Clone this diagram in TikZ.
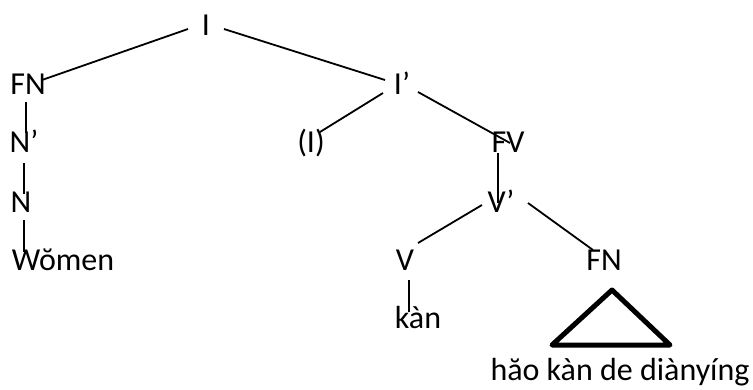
\documentclass[tikz,border=0pt]{standalone}
\usepackage{fontspec}
\setmainfont{Carlito}
\begin{document}
\begin{tikzpicture}[x=1pt,y=-1pt,
  lbl/.style={anchor=base,inner sep=0pt,font=\fontsize{32}{32}\selectfont},
  edge/.style={line width=1.8pt},
  tri/.style={line width=5pt,line join=round}]
\useasboundingbox (0,0) rectangle (753,389);
% labels
\node[lbl] (I) at (206,35) {I};
\node[lbl] (FN1) at (28,94) {FN};
\node[lbl] (Ip) at (402,94) {I’};
\node[lbl] (Np) at (24,152) {N’};
\node[lbl] (Iopt) at (311,152) {(I)};
\node[lbl] (FV) at (508,152) {FV};
\node[lbl] (N) at (21,212) {N};
\node[lbl] (Vp) at (501,212) {V’};
\node[lbl] (Women) at (63,270) {Wŏmen};
\node[lbl] (V) at (405,270) {V};
\node[lbl] (FN2) at (604,270) {FN};
\node[lbl] (kan) at (418,328) {kàn};
\node[lbl] (hao) at (620,380) {hăo kàn de diànyíng};
% connector ends
\coordinate (I-l) at (188,29);
\coordinate (FN1-t) at (42,80);
\coordinate (I-r) at (224,29);
\coordinate (Ip-l) at (385,80);
\coordinate (FN1-b) at (26,102);
\coordinate (Np-t) at (26,133);
\coordinate (Np-b) at (24,163);
\coordinate (N-t) at (24,194);
\coordinate (N-b) at (24,220);
\coordinate (Women-t) at (24,252);
\coordinate (Ip-bl) at (383,93);
\coordinate (Iopt-t) at (320,132);
\coordinate (Ip-br) at (418,92);
\coordinate (FV-t) at (510,143);
\coordinate (FV-b) at (498,153);
\coordinate (Vp-t) at (498,203);
\coordinate (Vp-bl) at (482,205);
\coordinate (V-t) at (418,243);
\coordinate (Vp-br) at (528,203);
\coordinate (FN2-t) at (593,250);
\coordinate (V-b) at (409,280);
\coordinate (kan-t) at (409,312);
\coordinate (tA) at (612,290);
\coordinate (tB) at (552,345);
\coordinate (tC) at (670,345);
% connectors
\draw[edge] (I-l) -- (FN1-t);
\draw[edge] (I-r) -- (Ip-l);
\draw[edge] (FN1-b) -- (Np-t);
\draw[edge] (Np-b) -- (N-t);
\draw[edge] (N-b) -- (Women-t);
\draw[edge] (Ip-bl) -- (Iopt-t);
\draw[edge] (Ip-br) -- (FV-t);
\draw[edge] (FV-b) -- (Vp-t);
\draw[edge] (Vp-bl) -- (V-t);
\draw[edge] (Vp-br) -- (FN2-t);
\draw[edge] (V-b) -- (kan-t);
\draw[tri] (tA) -- (tB) -- (tC) -- cycle;
\end{tikzpicture}
\end{document}
